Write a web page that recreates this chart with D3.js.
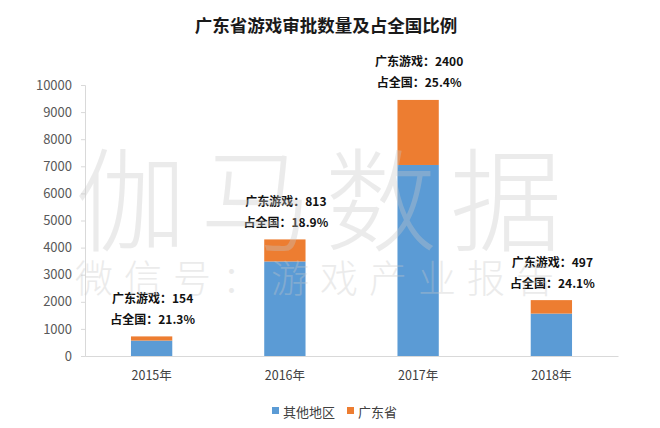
<!DOCTYPE html>
<html>
<head>
<meta charset="utf-8">
<script src="https://cdn.jsdelivr.net/npm/d3@7"></script>
<style>
  html, body { margin: 0; padding: 0; background: #fff; }
  svg { display: block; }
  text { font-family: "Noto Sans CJK SC", "Liberation Sans", sans-serif; }
</style>
</head>
<body>
<svg id="chart" width="660" height="428"></svg>
<script>
const categories = ["2015年", "2016年", "2017年", "2018年"];
const otherRegions = [569, 3489, 7049, 1565];
const guangdong = [154, 813, 2400, 497];
const shareLabels = ["21.3%", "18.9%", "25.4%", "24.1%"];
const yTicks = [0, 1000, 2000, 3000, 4000, 5000, 6000, 7000, 8000, 9000, 10000];
const seriesNames = ["其他地区", "广东省"];
const colors = ["#5B9BD5", "#ED7D31"];

const svg = d3.select("#chart");
const W = 660, H = 428;
const margin = { left: 85, right: 42, top: 85, bottom: 72 };

svg.append("rect").attr("width", W).attr("height", H).attr("fill", "#fff");

// title
svg.append("text")
  .attr("x", 326).attr("y", 24)
  .attr("text-anchor", "middle").attr("dominant-baseline", "central")
  .attr("font-size", 17.5).attr("font-weight", "bold").attr("fill", "#1a1a1a")
  .text("广东省游戏审批数量及占全国比例");

const x = d3.scaleBand().domain(categories)
  .range([margin.left, W - margin.right])
  .paddingInner(0.69).paddingOuter(0.345);
const y = d3.scaleLinear().domain([0, 10000]).range([H - margin.bottom, margin.top]);

// y axis
const yAxis = svg.append("g")
  .attr("transform", `translate(${margin.left},0)`)
  .call(d3.axisLeft(y).tickValues(yTicks).tickSize(4).tickPadding(9).tickFormat(d3.format("d")));
yAxis.select(".domain").attr("stroke", "#d9d9d9");
yAxis.selectAll(".tick line").attr("stroke", "#d9d9d9");
yAxis.selectAll(".tick text").attr("font-size", 13).attr("fill", "#595959")
  .attr("font-family", "'Liberation Sans', Arial, sans-serif");

// x baseline
const xAxis = svg.append("g")
  .attr("transform", `translate(0,${y(0)})`)
  .call(d3.axisBottom(x).tickSize(0).tickPadding(15));
xAxis.select(".domain").attr("stroke", "#d9d9d9");
xAxis.selectAll(".tick text").attr("font-size", 12.5).attr("fill", "#404040");

// stacked bars
const rows = categories.map((c, i) => ({ cat: c, other: otherRegions[i], gd: guangdong[i], share: shareLabels[i] }));
const stack = d3.stack().keys(["other", "gd"])(rows);
stack.forEach((layer, li) => {
  svg.append("g").selectAll("rect").data(layer).join("rect")
    .attr("x", d => x(d.data.cat))
    .attr("width", x.bandwidth())
    .attr("y", d => y(d[1]))
    .attr("height", d => y(d[0]) - y(d[1]))
    .attr("fill", colors[li]);
});

// labels
const lab = svg.append("g");
rows.forEach(r => {
  const top = y(r.other + r.gd);
  const cx = x(r.cat) + x.bandwidth() / 2 + 1;
  lab.append("text").attr("x", cx).attr("y", top - 39)
    .attr("text-anchor", "middle").attr("dominant-baseline", "central")
    .attr("font-size", 12).attr("font-weight", "bold").attr("fill", "#111")
    .text("广东游戏：" + r.gd);
  lab.append("text").attr("x", cx).attr("y", top - 18)
    .attr("text-anchor", "middle").attr("dominant-baseline", "central")
    .attr("font-size", 12).attr("font-weight", "bold").attr("fill", "#111")
    .text("占全国：" + r.share);
});

// watermark
const wm = svg.append("g").attr("fill", "#c8c8c8").attr("opacity", 0.35).attr("pointer-events", "none");
wm.append("text").attr("x", 75).attr("y", 243)
  .attr("font-size", 112).attr("font-weight", 300).attr("letter-spacing", 13)
  .text("伽马数据");
wm.append("text").attr("x", 75).attr("y", 292)
  .attr("font-size", 38).attr("font-weight", 300).attr("letter-spacing", 11)
  .text("微信号：游戏产业报告");

// legend
const legend = svg.append("g");
const legX = [272, 347];
seriesNames.forEach((n, i) => {
  legend.append("rect").attr("x", legX[i]).attr("y", 407).attr("width", 7).attr("height", 7).attr("fill", colors[i]);
  legend.append("text").attr("x", legX[i] + 11).attr("y", 411)
    .attr("dominant-baseline", "central").attr("font-size", 13).attr("fill", "#404040")
    .text(n);
});
</script>
</body>
</html>
